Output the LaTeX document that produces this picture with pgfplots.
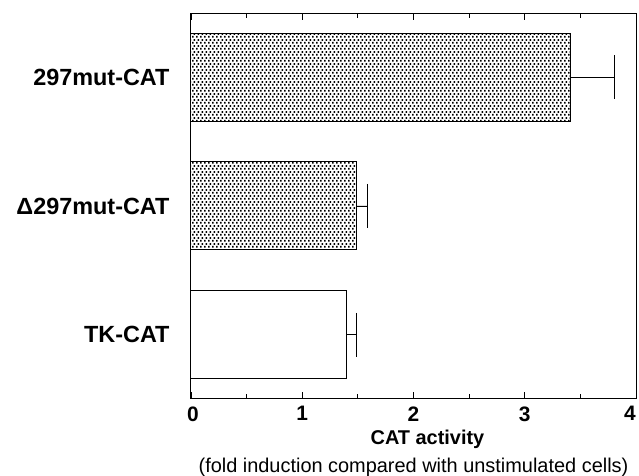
\documentclass[border=0pt]{standalone}
\usepackage{fontspec}
\setmainfont{Liberation Sans}
\usepackage{pgfplots}
\pgfplotsset{compat=1.18}
\usetikzlibrary{patterns,patterns.meta}
\tikzdeclarepattern{
  name=mydots, type=uncolored,
  bottom left={(0bp,0bp)}, top right={(4bp,6bp)},
  tile size={(4bp,6bp)},
  code={
    \fill (0bp,0.5bp) rectangle (2bp,2.5bp);
    \fill (2bp,3.5bp) rectangle (4bp,5.5bp);
  }
}
\begin{document}
\begin{tikzpicture}
\useasboundingbox (-191bp,-78bp) rectangle (448bp,398bp);
\begin{axis}[
  at={(0,0)}, anchor=south west,
  scale only axis, width=445bp, height=384bp,
  xmin=0, xmax=4, ymin=-0.49, ymax=2.49,
  xbar, bar width=88bp,
  xtick={0,1,2,3,4}, minor xtick={0.5,1.5,2.5,3.5},
  xticklabels={\hspace*{4bp}0,1,2,3,4\hspace*{12bp}},
  tick align=inside, xtick pos=both,
  major tick length=6bp, minor tick length=4bp,
  ytick={0,1,2}, yticklabels={TK-CAT,Δ297mut-CAT,297mut-CAT},
  y tick style={draw=none},
  axis line style={line width=1bp},
  every tick/.style={line width=0.9bp, black},
  /pgf/number format/assume math mode=true,
  xticklabel style={font=\fontsize{21}{21}\selectfont\bfseries, yshift=-5bp},
  yticklabel style={font=\fontsize{23.5}{24}\selectfont\bfseries, xshift=-18bp},
  xlabel={\hspace*{28bp}{\bfseries CAT activity}\\{(fold induction compared with unstimulated cells)}},
  xlabel style={align=center, font=\fontsize{20}{28}\selectfont, yshift=-2bp},
  error bars/x dir=plus, error bars/x explicit,
  error bars/error mark options={black, mark size=22bp, line width=1.2bp, rotate=90},
  error bars/error bar style={line width=0.9bp, black},
]
\addplot[draw=black, line width=1bp, pattern=mydots, pattern color=black, bar shift=0pt]
  coordinates {(3.41,2) +- (0.40,0)};
\addplot[draw=black, line width=1bp, pattern=mydots, pattern color=black, bar shift=0pt]
  coordinates {(1.49,1) +- (0.10,0)};
\addplot[draw=black, line width=1bp, fill=white, bar shift=0pt]
  coordinates {(1.40,0) +- (0.09,0)};
\end{axis}
\end{tikzpicture}
\end{document}
